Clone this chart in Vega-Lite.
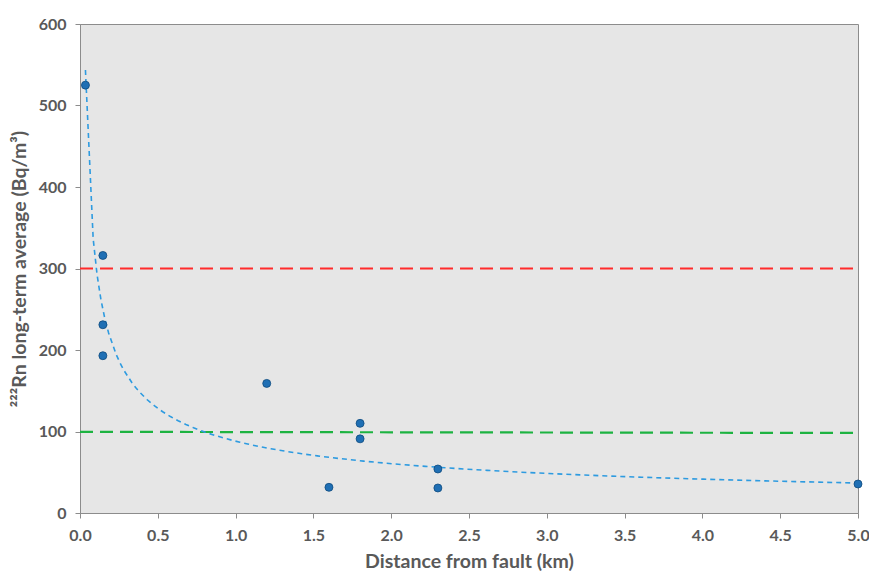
{
  "$schema": "https://vega.github.io/schema/vega-lite/v6.json",
  "width": 778,
  "height": 489,
  "autosize": "none",
  "padding": {"left": 80, "top": 24, "right": 11, "bottom": 59},
  "background": "white",
  "config": {
    "view": {"fill": "#E6E6E6", "stroke": "#8C8C8C", "strokeWidth": 1},
    "axis": {
      "labelFont": "Lato", "labelFontSize": 16, "labelFontWeight": "bold", "labelColor": "#595959",
      "titleFont": "Lato", "titleFontSize": 19.5, "titleFontWeight": "bold", "titleColor": "#595959",
      "domainColor": "#8C8C8C", "tickColor": "#8C8C8C", "tickSize": 5, "grid": false, "labelFlush": false
    }
  },
  "datasets": {
    "points": [
      {"distance": 0.035, "radon": 525},
      {"distance": 0.147, "radon": 316},
      {"distance": 0.147, "radon": 231},
      {"distance": 0.147, "radon": 193},
      {"distance": 1.2, "radon": 159},
      {"distance": 1.8, "radon": 110},
      {"distance": 1.8, "radon": 91},
      {"distance": 1.6, "radon": 31.5},
      {"distance": 2.3, "radon": 54},
      {"distance": 2.3, "radon": 30.7},
      {"distance": 5.0, "radon": 35.6}
    ],
    "limits": [
      {"distance": 0, "radon": 300, "limit": "red"},
      {"distance": 5, "radon": 300, "limit": "red"},
      {"distance": 0, "radon": 99.6, "limit": "green"},
      {"distance": 5, "radon": 98.2, "limit": "green"}
    ]
  },
  "layer": [
    {
      "data": {"name": "limits"},
      "transform": [{"filter": "datum.limit === 'red'"}],
      "mark": {"type": "line", "color": "#FF2B2B", "strokeWidth": 2.2, "strokeDash": [13, 7], "clip": true},
      "encoding": {
        "x": {"field": "distance", "type": "quantitative"},
        "y": {"field": "radon", "type": "quantitative"}
      }
    },
    {
      "data": {"name": "limits"},
      "transform": [{"filter": "datum.limit === 'green'"}],
      "mark": {"type": "line", "color": "#1DB341", "strokeWidth": 2.2, "strokeDash": [13, 7], "clip": true},
      "encoding": {
        "x": {"field": "distance", "type": "quantitative"},
        "y": {"field": "radon", "type": "quantitative"}
      }
    },
    {
      "data": {"name": "points"},
      "transform": [{"regression": "radon", "on": "distance", "method": "pow"}],
      "mark": {"type": "line", "color": "#2E9BE0", "strokeWidth": 1.6, "strokeDash": [5, 4], "clip": true},
      "encoding": {
        "x": {"field": "distance", "type": "quantitative"},
        "y": {"field": "radon", "type": "quantitative"}
      }
    },
    {
      "data": {"name": "points"},
      "mark": {"type": "point", "filled": true, "size": 64, "fill": "#1F6FB4", "stroke": "#0E4A7E", "strokeWidth": 0.8, "opacity": 1},
      "encoding": {
        "x": {
          "field": "distance", "type": "quantitative",
          "scale": {"domain": [0, 5], "nice": false, "zero": true},
          "axis": {"values": [0, 0.5, 1, 1.5, 2, 2.5, 3, 3.5, 4, 4.5, 5], "format": ".1f", "title": "Distance from fault (km)", "labelPadding": 9, "titlePadding": 9}
        },
        "y": {
          "field": "radon", "type": "quantitative",
          "scale": {"domain": [0, 600], "nice": false},
          "axis": {"values": [0, 100, 200, 300, 400, 500, 600], "title": "²²²Rn long-term average (Bq/m³)", "labelPadding": 9, "titlePadding": 9}
        }
      }
    }
  ]
}
